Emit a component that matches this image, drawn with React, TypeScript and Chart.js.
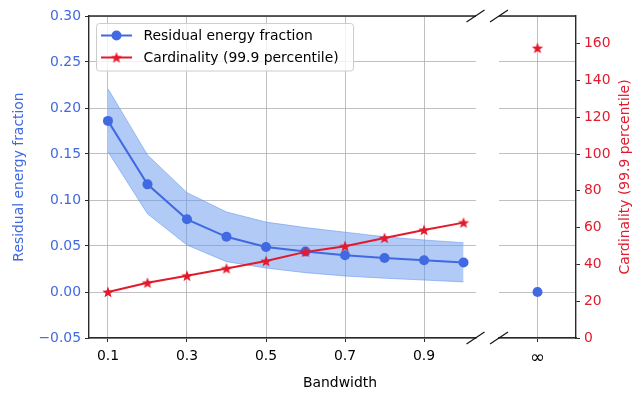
import React, { useEffect, useRef } from "react";
import { Chart, registerables } from "chart.js";

Chart.register(...registerables);

// ---------------- data ----------------
const bandwidth = [0.1, 0.2, 0.3, 0.4, 0.5, 0.6, 0.7, 0.8, 0.9, 1.0];
const residual = [0.186, 0.117, 0.079, 0.06, 0.049, 0.044, 0.04, 0.037, 0.0345, 0.032];
const residualUpper = [0.221, 0.149, 0.108, 0.087, 0.076, 0.07, 0.065, 0.06, 0.0565, 0.0536];
const residualLower = [0.1525, 0.085, 0.051, 0.033, 0.026, 0.021, 0.0174, 0.015, 0.013, 0.011];
const cardinality = [25, 30, 33.8, 37.8, 41.8, 46.8, 49.9, 54.4, 58.7, 62.7];
const infLabels = ["∞"];
const residualInf = [0.0];
const cardinalityInf = [157.6];

const xTicks = [0.1, 0.3, 0.5, 0.7, 0.9];
const leftTicks = [-0.05, 0, 0.05, 0.1, 0.15, 0.2, 0.25, 0.3];
const rightTicks = [0, 20, 40, 60, 80, 100, 120, 140, 160];

const seriesLabels = ["Residual energy fraction", "Cardinality (99.9 percentile)"];
const leftTitle = "Residual energy fraction";
const rightTitle = "Cardinality (99.9 percentile)";
const xTitle = "Bandwidth";

// ---------------- style ----------------
const W = 644;
const H = 396;
const FAMILY = "'DejaVu Sans', 'Liberation Sans', sans-serif";
const FS = 13.9;
const BLUE = "#4169e1";
const BAND_FILL = "rgba(100,149,237,0.5)";
const BAND_EDGE = "rgba(100,149,237,0.55)";
const RED = "#e3192c";
const GRID = "#b0b0b0";
const SPINE = "#2a2a2a";

const PLOT_L = 89;
const PLOT_T = 16;
const PLOT_B = 338;
const LEFT_R = 476;
const RIGHT_L = 499;
const PLOT_R = 576;

function makeStar(outer: number, color: string): HTMLCanvasElement {
  const size = Math.ceil(outer * 2 + 4);
  const c = document.createElement("canvas");
  c.width = size;
  c.height = size;
  const ctx = c.getContext("2d")!;
  const cx = size / 2;
  const cy = size / 2 + outer * 0.08;
  const inner = outer * 0.42;
  ctx.beginPath();
  for (let i = 0; i < 10; i++) {
    const r = i % 2 === 0 ? outer : inner;
    const a = -Math.PI / 2 + (i * Math.PI) / 5;
    const px = cx + r * Math.cos(a);
    const py = cy + r * Math.sin(a);
    if (i === 0) ctx.moveTo(px, py);
    else ctx.lineTo(px, py);
  }
  ctx.closePath();
  ctx.fillStyle = color;
  ctx.fill();
  return c;
}

const fmtLeft = (v: number) => {
  const s = Math.abs(v).toFixed(2);
  return v < -1e-9 ? "\u2212" + s : s;
};

const font = { family: FAMILY, size: FS };

export default function App() {
  const leftRef = useRef<HTMLCanvasElement | null>(null);
  const rightRef = useRef<HTMLCanvasElement | null>(null);

  useEffect(() => {
    const star = makeStar(6, RED);

    const legendPlugin = {
      id: "innerLegend",
      afterDraw(chart: any) {
        const ctx = chart.ctx as CanvasRenderingContext2D;
        ctx.save();
        const bx = 96.5, by = 23.5, bw = 257, bh = 47.5, r = 3;
        ctx.beginPath();
        ctx.roundRect(bx, by, bw, bh, r);
        ctx.fillStyle = "rgba(255,255,255,0.8)";
        ctx.fill();
        ctx.strokeStyle = "#cccccc";
        ctx.lineWidth = 1;
        ctx.stroke();
        const rows = [
          { y: 35.5, color: BLUE, kind: "circle", text: seriesLabels[0] },
          { y: 57.5, color: RED, kind: "star", text: seriesLabels[1] },
        ];
        for (const row of rows) {
          ctx.beginPath();
          ctx.moveTo(101, row.y);
          ctx.lineTo(132, row.y);
          ctx.strokeStyle = row.color;
          ctx.lineWidth = 2;
          ctx.stroke();
          if (row.kind === "circle") {
            ctx.beginPath();
            ctx.arc(116.5, row.y, 5, 0, Math.PI * 2);
            ctx.fillStyle = row.color;
            ctx.fill();
          } else {
            ctx.drawImage(star, 116.5 - star.width / 2, row.y - star.height / 2);
          }
          ctx.fillStyle = "#000";
          ctx.font = `${FS}px ${FAMILY}`;
          ctx.textAlign = "left";
          ctx.textBaseline = "middle";
          ctx.fillText(row.text, 143.5, row.y + 0.5);
        }
        ctx.restore();
      },
    };

    const decoPlugin = {
      id: "deco",
      afterDraw(chart: any) {
        const ctx = chart.ctx as CanvasRenderingContext2D;
        ctx.save();
        // top spines
        ctx.strokeStyle = SPINE;
        ctx.lineWidth = 1.4;
        ctx.beginPath();
        ctx.moveTo(PLOT_L, PLOT_T);
        ctx.lineTo(LEFT_R, PLOT_T);
        ctx.moveTo(RIGHT_L, PLOT_T);
        ctx.lineTo(PLOT_R, PLOT_T);
        ctx.stroke();
        // break marks
        ctx.strokeStyle = "#111";
        ctx.lineWidth = 1.2;
        for (const cx of [LEFT_R - 0.5, RIGHT_L]) {
          for (const cy of [PLOT_T, PLOT_B]) {
            ctx.beginPath();
            ctx.moveTo(cx - 9, cy + 6);
            ctx.lineTo(cx + 9, cy - 6);
            ctx.stroke();
          }
        }
        // x title
        ctx.fillStyle = "#000";
        ctx.font = `${FS}px ${FAMILY}`;
        ctx.textAlign = "center";
        ctx.textBaseline = "middle";
        ctx.fillText(xTitle, 340, 383);
        // right title
        ctx.fillStyle = RED;
        ctx.translate(625.5, (PLOT_T + PLOT_B) / 2);
        ctx.rotate(-Math.PI / 2);
        ctx.fillText(rightTitle, 0, 0);
        ctx.restore();
      },
    };

    const gridCommon = { color: GRID, lineWidth: 0.8, tickLength: 4, tickColor: SPINE, tickWidth: 1 };

    const left = new Chart(leftRef.current!, {
      type: "line",
      data: {
        datasets: [
          {
            label: "upper",
            data: bandwidth.map((x, i) => ({ x, y: residualUpper[i] })),
            yAxisID: "y",
            borderColor: BAND_EDGE,
            borderWidth: 1,
            pointRadius: 0,
            fill: "+1",
            backgroundColor: BAND_FILL,
            order: 3,
          },
          {
            label: "lower",
            data: bandwidth.map((x, i) => ({ x, y: residualLower[i] })),
            yAxisID: "y",
            borderColor: BAND_EDGE,
            borderWidth: 1,
            pointRadius: 0,
            fill: false,
            order: 3,
          },
          {
            label: seriesLabels[0],
            data: bandwidth.map((x, i) => ({ x, y: residual[i] })),
            yAxisID: "y",
            borderColor: BLUE,
            backgroundColor: BLUE,
            borderWidth: 2,
            pointRadius: 5,
            pointBorderWidth: 0,
            pointStyle: "circle",
            order: 2,
          },
          {
            label: seriesLabels[1],
            data: bandwidth.map((x, i) => ({ x, y: cardinality[i] })),
            yAxisID: "y2",
            borderColor: RED,
            backgroundColor: RED,
            borderWidth: 2,
            pointRadius: 5,
            pointStyle: star as any,
            order: 1,
          },
        ],
      } as any,
      options: {
        responsive: false,
        animation: false,
        events: [],
        layout: { padding: { left: 0, top: PLOT_T, right: W - LEFT_R, bottom: 0 } },
        plugins: { legend: { display: false }, tooltip: { enabled: false } },
        scales: {
          x: {
            type: "linear",
            min: 0.052,
            max: 1.0315,
            afterBuildTicks: (s: any) => {
              s.ticks = xTicks.map((v) => ({ value: v }));
            },
            ticks: {
              callback: (v: any) => Number(v).toFixed(1),
              color: "#000",
              font,
              padding: 6,
              maxRotation: 0,
              autoSkip: false,
            },
            grid: gridCommon,
            border: { color: SPINE, width: 1.4 },
            afterFit: (s: any) => {
              s.height = H - PLOT_B;
            },
          },
          y: {
            position: "left",
            min: -0.05,
            max: 0.3,
            afterBuildTicks: (s: any) => {
              s.ticks = leftTicks.map((v) => ({ value: v }));
            },
            ticks: { callback: (v: any) => fmtLeft(Number(v)), color: BLUE, font, padding: 4 },
            grid: gridCommon,
            border: { color: SPINE, width: 1.4 },
            title: {
              display: true,
              text: leftTitle,
              color: BLUE,
              font,
              padding: { top: 10.7, bottom: 0 },
            },
            afterFit: (s: any) => {
              s.width = PLOT_L;
            },
          },
          y2: {
            position: "right",
            display: false,
            min: 0,
            max: 175,
          },
        },
      } as any,
      plugins: [legendPlugin],
    });

    const right = new Chart(rightRef.current!, {
      type: "line",
      data: {
        labels: infLabels,
        datasets: [
          {
            label: seriesLabels[0],
            data: residualInf,
            yAxisID: "y",
            borderColor: BLUE,
            backgroundColor: BLUE,
            pointRadius: 5,
            pointBorderWidth: 0,
            showLine: false,
            order: 2,
          },
          {
            label: seriesLabels[1],
            data: cardinalityInf,
            yAxisID: "y2",
            borderColor: RED,
            backgroundColor: RED,
            pointRadius: 5,
            pointStyle: star as any,
            showLine: false,
            order: 1,
          },
        ],
      } as any,
      options: {
        responsive: false,
        animation: false,
        events: [],
        layout: { padding: { left: RIGHT_L, top: PLOT_T, right: 0, bottom: 0 } },
        plugins: { legend: { display: false }, tooltip: { enabled: false } },
        scales: {
          x: {
            type: "category",
            offset: true,
            grid: { ...gridCommon, offset: false },
            ticks: { color: "#000", font: { family: FAMILY, size: 18 }, padding: 6, maxRotation: 0 },
            border: { color: SPINE, width: 1.4 },
            afterFit: (s: any) => {
              s.height = H - PLOT_B;
            },
          },
          y: {
            position: "left",
            min: -0.05,
            max: 0.3,
            afterBuildTicks: (s: any) => {
              s.ticks = leftTicks.map((v) => ({ value: v }));
            },
            ticks: { display: false },
            grid: { color: GRID, lineWidth: 0.8, drawTicks: false },
            border: { display: false },
            afterFit: (s: any) => {
              s.width = 0;
            },
          },
          y2: {
            position: "right",
            min: 0,
            max: 175,
            afterBuildTicks: (s: any) => {
              s.ticks = rightTicks.map((v) => ({ value: v }));
            },
            ticks: { color: RED, font, padding: 4 },
            grid: { drawOnChartArea: false, tickLength: 4, tickColor: SPINE, tickWidth: 1 },
            border: { color: SPINE, width: 1.4 },
            afterFit: (s: any) => {
              s.width = W - PLOT_R;
            },
          },
        },
      } as any,
      plugins: [decoPlugin],
    });

    return () => {
      left.destroy();
      right.destroy();
    };
  }, []);

  const canvasStyle: React.CSSProperties = { position: "absolute", left: 0, top: 0, width: W, height: H };
  return (
    <div style={{ position: "fixed", left: 0, top: 0, width: W, height: H, background: "#fff" }}>
      <canvas ref={leftRef} width={W} height={H} style={canvasStyle} />
      <canvas ref={rightRef} width={W} height={H} style={canvasStyle} />
    </div>
  );
}
